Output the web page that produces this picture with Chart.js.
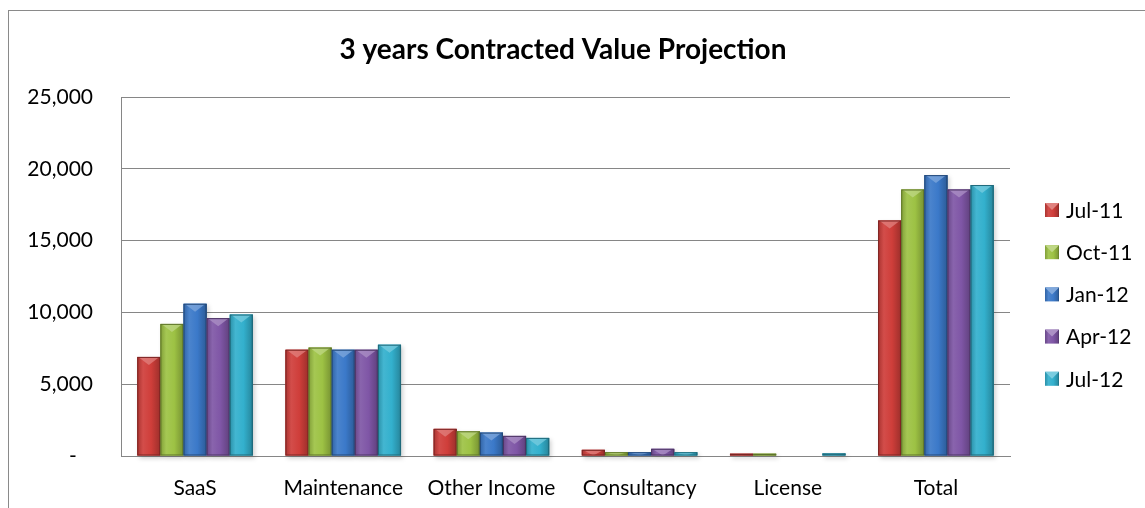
<!DOCTYPE html>
<html>
<head>
<meta charset="utf-8">
<title>3 years Contracted Value Projection</title>
<script src="https://cdn.jsdelivr.net/npm/chart.js@4.4.1/dist/chart.umd.min.js"></script>
<style>
    html, body { margin: 0; padding: 0; background: #fff; }
    #wrap { width: 1145px; height: 508px; position: relative; }
</style>
</head>
<body>
<div id="wrap"><canvas id="projection-chart"></canvas></div>
<script>
(function() {
    'use strict';

    // Chart data
    const categories = ['SaaS', 'Maintenance', 'Other Income', 'Consultancy', 'License', 'Total'];
    const periods = ['Jul-11', 'Oct-11', 'Jan-12', 'Apr-12', 'Jul-12'];
    const jul11 = [6900, 7400, 1890, 430, 160, 16400];
    const oct11 = [9200, 7550, 1720, 265, 160, 18560];
    const jan12 = [10600, 7400, 1630, 265, 0, 19560];
    const apr12 = [9600, 7400, 1400, 500, 0, 18560];
    const jul12 = [9850, 7750, 1260, 265, 180, 18870];
    const yTicks = [0, 5000, 10000, 15000, 20000, 25000];

    const seriesValues = [jul11, oct11, jan12, apr12, jul12];
    const colors = ['#CF3E3A', '#9DC244', '#3B79C9', '#7F56A6', '#33B0CD'];

    const FONT = 'Lato, "Open Sans", sans-serif';

    // Small helpers for shading
    function shade(hex, f) {
        const n = parseInt(hex.slice(1), 16);
        let r = (n >> 16) & 255, g = (n >> 8) & 255, b = n & 255;
        if (f < 1) {
            r *= f; g *= f; b *= f;
        } else {
            const t = f - 1;
            r += (255 - r) * t; g += (255 - g) * t; b += (255 - b) * t;
        }
        return 'rgb(' + Math.round(r) + ',' + Math.round(g) + ',' + Math.round(b) + ')';
    }

    function barGradient(ctx, left, right, color) {
        const grad = ctx.createLinearGradient(left, 0, right, 0);
        grad.addColorStop(0, shade(color, 0.82));
        grad.addColorStop(0.25, shade(color, 1.08));
        grad.addColorStop(0.6, color);
        grad.addColorStop(0.92, shade(color, 0.8));
        grad.addColorStop(1, shade(color, 0.6));
        return grad;
    }

    /**
     * Shadows, cylinder shading and top bevel on every bar
     */
    const barStyle = {
        id: 'barStyle',
        beforeDatasetsDraw(chart) {
            const ctx = chart.ctx;
            ctx.save();
            chart.data.datasets.forEach((ds, i) => {
                chart.getDatasetMeta(i).data.forEach(bar => {
                    const h = bar.base - bar.y;
                    if (h <= 0) return;
                    ctx.fillStyle = 'rgba(0,0,0,0.18)';
                    ctx.filter = 'blur(2px)';
                    ctx.fillRect(bar.x - bar.width / 2 + 2, bar.y + 2, bar.width, h + 1);
                });
            });
            ctx.restore();
        },
        afterDatasetsDraw(chart) {
            const ctx = chart.ctx;
            ctx.save();
            chart.data.datasets.forEach((ds, i) => {
                const color = colors[i];
                chart.getDatasetMeta(i).data.forEach(bar => {
                    const h = bar.base - bar.y;
                    if (h <= 0) return;
                    const left = bar.x - bar.width / 2;
                    const right = bar.x + bar.width / 2;
                    ctx.fillStyle = barGradient(ctx, left, right, color);
                    ctx.fillRect(left, bar.y, bar.width, h);

                    // top bevel
                    const bh = Math.min(8, h);
                    ctx.beginPath();
                    ctx.moveTo(left + 1, bar.y);
                    ctx.lineTo(right - 1, bar.y);
                    ctx.lineTo(bar.x, bar.y + bh);
                    ctx.closePath();
                    ctx.fillStyle = shade(color, 1.35);
                    ctx.globalAlpha = 0.75;
                    ctx.fill();
                    ctx.globalAlpha = 1;

                    // dark outline
                    ctx.strokeStyle = shade(color, 0.6);
                    ctx.lineWidth = 1;
                    ctx.strokeRect(left + 0.5, bar.y + 0.5, bar.width - 1, h - 1);
                });
            });
            ctx.restore();
        }
    };

    /**
     * Outer frame, title and legend
     */
    const decorations = {
        id: 'decorations',
        afterDraw(chart) {
            const ctx = chart.ctx;
            ctx.save();

            ctx.strokeStyle = '#8a8a8a';
            ctx.lineWidth = 1;
            ctx.strokeRect(8.5, 10.5, 1300, 700);

            ctx.fillStyle = '#000';
            ctx.font = 'bold 28px ' + FONT;
            ctx.textAlign = 'center';
            ctx.textBaseline = 'alphabetic';
            ctx.fillText('3 years Contracted Value Projection', 563, 59);

            ctx.font = '21px ' + FONT;
            ctx.textAlign = 'left';
            ctx.textBaseline = 'middle';
            chart.data.datasets.forEach((ds, i) => {
                const y = 210 + i * 42.2;
                ctx.fillStyle = barGradient(ctx, 1045, 1059, colors[i]);
                ctx.fillRect(1045, y - 7, 14, 14);
                ctx.beginPath();
                ctx.moveTo(1045, y - 7);
                ctx.lineTo(1059, y - 7);
                ctx.lineTo(1052, y);
                ctx.closePath();
                ctx.fillStyle = shade(colors[i], 1.35);
                ctx.fill();
                ctx.fillStyle = '#000';
                ctx.fillText(ds.label, 1066, y + 1);
            });
            ctx.restore();
        }
    };

    const ctx = document.getElementById('projection-chart');

    new Chart(ctx, {
        type: 'bar',
        data: {
            labels: categories,
            datasets: periods.map((p, i) => ({
                label: p,
                data: seriesValues[i],
                backgroundColor: colors[i],
                borderWidth: 0,
                categoryPercentage: 0.78,
                barPercentage: 1.0
            }))
        },
        options: {
            responsive: true,
            maintainAspectRatio: false,
            animation: false,
            layout: {
                padding: { top: 97, right: 135, bottom: 0, left: 0 }
            },
            plugins: {
                legend: { display: false },
                title: { display: false },
                tooltip: { enabled: false }
            },
            scales: {
                x: {
                    grid: { display: false, drawTicks: false },
                    border: { display: true, color: '#868686' },
                    ticks: {
                        color: '#000',
                        font: { family: FONT, size: 21 },
                        padding: 20,
                        maxRotation: 0,
                        autoSkip: false
                    },
                    afterFit: function(scale) {
                        scale.height = 52;
                    }
                },
                y: {
                    min: 0,
                    max: 25000,
                    afterBuildTicks: function(scale) {
                        scale.ticks = yTicks.map(v => ({ value: v }));
                    },
                    grid: { color: '#868686', drawTicks: false },
                    border: { display: true, color: '#868686' },
                    ticks: {
                        color: '#000',
                        font: { family: FONT, size: 21 },
                        padding: 28,
                        callback: function(value) {
                            return value === 0 ? '-   ' : value.toLocaleString('en-US');
                        }
                    },
                    afterFit: function(scale) {
                        scale.width = 121;
                    }
                }
            }
        },
        plugins: [barStyle, decorations]
    });
})();
</script>
</body>
</html>
